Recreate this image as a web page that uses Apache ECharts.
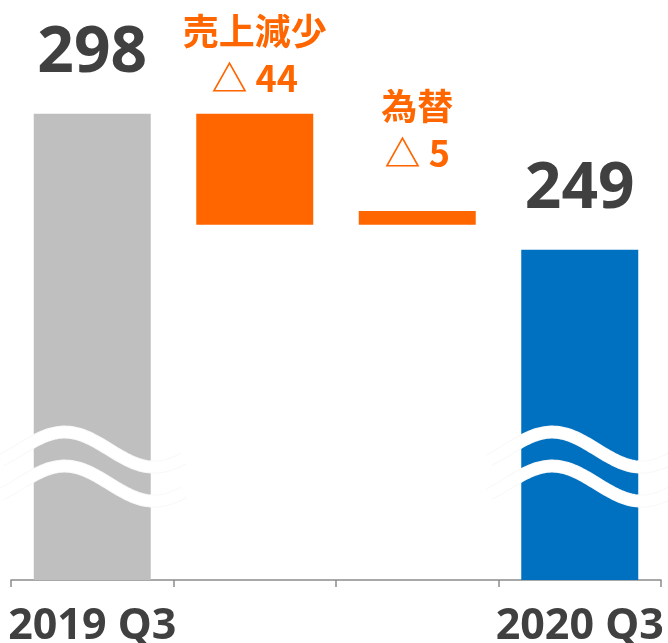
<!DOCTYPE html>
<html>
<head>
<meta charset="utf-8">
<script src="https://cdn.jsdelivr.net/npm/echarts@6/dist/echarts.min.js"></script>
<style>
    html, body { margin: 0; padding: 0; background: #fff; }
    #bridge { width: 668px; height: 643px; }
</style>
</head>
<body>
<div id="bridge"></div>
<script>
// Chart data
var categories = ['2019 Q3', '売上減少', '為替', '2020 Q3'];
var totals = [298, null, null, 249];
// steps as drawn on the slide's broken axis (top / bottom of each orange bar)
var stepTop = [null, 298, 263, null];
var stepBottom = [null, 258, 258, null];
var stepLabels = [null, '△ 44', '△ 5', null];

var BREAK_AT = 177;   // value where the wave break marks sit

var bridge_element = document.getElementById('bridge');

if (bridge_element) {

    var bridge = echarts.init(bridge_element);

    // Build series data
    var baseData = categories.map(function (c, i) {
        return stepBottom[i] == null ? '-' : stepBottom[i];
    });
    var barData = categories.map(function (c, i) {
        if (totals[i] != null) {
            return {
                value: totals[i],
                itemStyle: { color: i === 0 ? '#BFBFBF' : '#0070C0' },
                label: {
                    show: true,
                    position: 'top',
                    distance: 28,
                    formatter: '{c}',
                    fontFamily: 'Noto Sans, sans-serif',
                    fontSize: 64,
                    lineHeight: 64,
                    fontWeight: 'bold',
                    color: '#404040'
                }
            };
        }
        return {
            value: stepTop[i] - stepBottom[i],
            itemStyle: { color: '#FF6600' },
            label: {
                show: true,
                position: 'top',
                distance: i === 1 ? 12 : 34,
                formatter: c + '\n' + stepLabels[i],
                fontFamily: 'Noto Sans CJK JP, sans-serif',
                fontSize: 36,
                lineHeight: 47,
                fontWeight: 'bold',
                color: '#FF6600'
            }
        };
    });
    // break marks go on the total bars (by category index)
    var breakData = [];
    totals.forEach(function (v, i) {
        if (v != null) breakData.push([i]);
    });

    // Wave break marks
    var renderBreak = function (params, api) {
        var c = api.coord([api.value(0), BREAK_AT]);
        var bw = api.size([1, 0])[0];
        var half = bw * 0.56;
        var period = bw * 1.1;
        var amp = 17.5;
        var shapes = [];
        [0, 34].forEach(function (dy) {
            var pts = [];
            for (var t = -half; t <= half; t += 2) {
                pts.push([
                    c[0] + t,
                    c[1] + dy - amp * Math.cos(2 * Math.PI * (t + bw * 0.17) / period)
                ]);
            }
            shapes.push({
                type: 'polyline',
                shape: { points: pts },
                style: { fill: null, stroke: '#f8f8f8', lineWidth: 13 }
            });
            shapes.push({
                type: 'polyline',
                shape: { points: pts },
                style: { fill: null, stroke: '#ffffff', lineWidth: 11 }
            });
        });
        return { type: 'group', children: shapes };
    };

    bridge.setOption({
        animation: false,
        grid: {
            left: 11,
            right: 7,
            top: 25,
            bottom: 63,
            outerBoundsMode: 'none'
        },
        xAxis: {
            type: 'category',
            data: categories,
            axisLine: {
                show: true,
                lineStyle: { color: '#8c8c8c', width: 1.5 }
            },
            axisTick: {
                show: true,
                interval: 0,
                alignWithLabel: false,
                length: 7,
                lineStyle: { color: '#8c8c8c', width: 1.5 }
            },
            axisLabel: {
                interval: function (index) {
                    return totals[index] != null;
                },
                margin: 25,
                fontFamily: 'Noto Sans, sans-serif',
                fontSize: 43,
                lineHeight: 43,
                fontWeight: 'bold',
                color: '#404040'
            }
        },
        yAxis: {
            type: 'value',
            min: 130,
            max: 330,
            show: false,
            splitLine: { show: false }
        },
        series: [{
                name: 'base',
                type: 'bar',
                stack: 'bridge',
                barWidth: '72%',
                itemStyle: { color: 'transparent' },
                data: baseData
            }, {
                name: 'value',
                type: 'bar',
                stack: 'bridge',
                barWidth: '72%',
                data: barData
            }, {
                name: 'break',
                type: 'custom',
                z: 10,
                renderItem: renderBreak,
                data: breakData
            }]
    });
}
</script>
</body>
</html>
